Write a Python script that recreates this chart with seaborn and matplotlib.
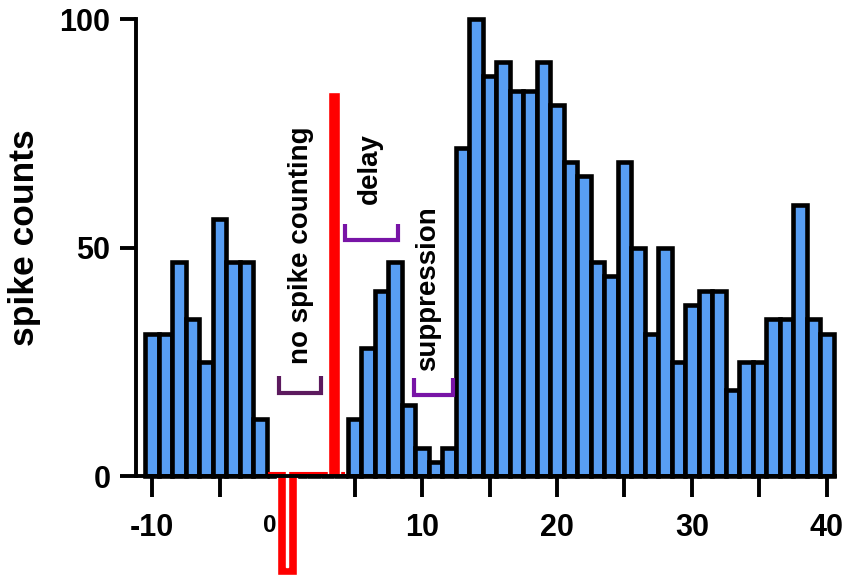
import matplotlib
matplotlib.use('Agg')
import matplotlib.pyplot as plt
import matplotlib.transforms as mtransforms
import pandas as pd
import seaborn as sns

# peri-stimulus histogram (bin centres in ms, counts normalised to peak = 100)
time_bins = list(range(-10, 41))
spike_counts = [31.2, 31.2, 46.9, 34.4, 25.0, 56.2, 46.9, 46.9, 12.5,
                0, 0, 0, 0, 0, 0,
                12.5, 28.1, 40.6, 46.9, 15.6, 6.2, 3.1, 6.2,
                71.9, 100, 87.5, 90.6, 84.4, 84.4, 90.6, 81.2, 68.8, 65.6,
                46.9, 43.8, 68.8, 50.0, 31.2, 50.0, 25.0, 37.5, 40.6, 40.6,
                18.8, 25.0, 25.0, 34.4, 34.4, 59.4, 34.4, 31.2]

x_ticks = [-10, -5, 5, 10, 15, 20, 25, 30, 35, 40]
x_ticklabels = ['-10', '', '', '10', '', '20', '', '30', '', '40']
y_ticks = [0, 50, 100]

# annotation brackets: label, left, right, bottom, top, colour, text x, text y
annotations = [
    ('no spike counting', -0.61, 2.54, 18.1, 21.8, '#5c1a5e', 1.0, 50.6),
    ('delay', 4.32, 8.22, 51.7, 55.3, '#7814a6', 6.1, 67.4),
    ('suppression', 9.38, 12.3, 17.8, 21.4, '#7814a6', 10.45, 41.0),
]

df = pd.DataFrame({'time': time_bins, 'count': spike_counts})

sns.set_style('ticks', {'axes.edgecolor': 'black', 'text.color': 'black',
                        'axes.labelcolor': 'black', 'xtick.color': 'black',
                        'ytick.color': 'black'})
plt.rcParams['font.family'] = ['Liberation Sans', 'DejaVu Sans']
plt.rcParams['font.weight'] = 'bold'

fig = plt.figure(figsize=(8.51, 5.82), dpi=100)
ax = fig.add_axes([136 / 851, 1 - 476 / 582, 699 / 851, 456.6 / 582])

sns.histplot(data=df, x='time', weights='count', binwidth=1, binrange=(-10.5, 40.5),
             color='#589ef3', edgecolor='black', linewidth=3.3, alpha=1, ax=ax)
for p in ax.patches:
    p.set_clip_on(False)

# stimulus artefact marks
ax.plot([-1.4, 4.3], [0.6, 0.6], color='red', lw=1.5, zorder=2, solid_capstyle='butt')
ax.bar(3.48, 84, width=0.85, color='red', zorder=2)
ax.bar(0, -21.7, width=1.44, color='red', zorder=2.1, clip_on=False)
ax.bar(0, -20.9, bottom=1.0, width=0.15, color='white', zorder=2.2, clip_on=False)

for label, x0, x1, yb, yt, col, tx, ty in annotations:
    ax.plot([x0, x0, x1, x1], [yt, yb, yb, yt], color=col, lw=3,
            solid_joinstyle='miter', solid_capstyle='butt', zorder=4)
    ax.text(tx, ty, label, rotation=90, ha='center', va='center',
            fontsize=20, fontweight='bold', color='black')

ax.set_xlim(-11.2, 40.6)
ax.set_ylim(0, 100)
ax.set_xticks(x_ticks)
ax.set_xticklabels(x_ticklabels)
ax.set_yticks(y_ticks)
ax.set_xlabel('')
ax.set_ylabel('')
ax.tick_params(axis='x', length=15, width=2.8, pad=12, labelsize=22, colors='black')
ax.tick_params(axis='y', length=11.5, width=2.8, pad=7, labelsize=22, colors='black')
for lab in ax.get_xticklabels() + ax.get_yticklabels():
    lab.set_fontweight('bold')
sns.despine(ax=ax)
for s in ['left', 'bottom']:
    ax.spines[s].set_linewidth(2.8)
    ax.spines[s].set_color('black')

trans = mtransforms.blended_transform_factory(ax.transData, ax.transAxes)
ax.text(-1.3, -0.083, '0', transform=trans, ha='center', va='top',
        fontsize=17.5, fontweight='bold', color='black')

fig.text(25 / 851, 1 - 238 / 582, 'spike counts', rotation=90, ha='center',
         va='center', fontsize=25.5, fontweight='bold', color='black')

fig.savefig('out.png', dpi=100)
